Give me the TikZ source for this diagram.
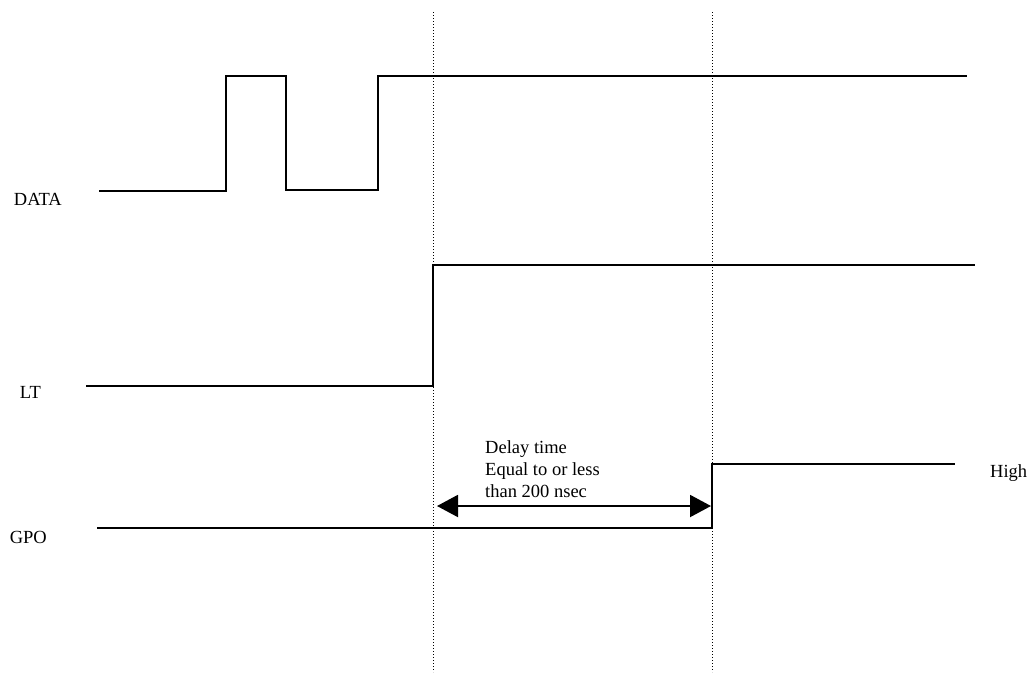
\documentclass[tikz,border=0pt]{standalone}
\usepackage{fontspec}
\setmainfont{Liberation Serif}
\usetikzlibrary{arrows.meta}
\begin{document}
\begin{tikzpicture}[x=1pt,y=-1pt,
  signal/.style={line width=2pt,line join=miter},
  marker/.style={line width=1pt,dash pattern=on 1pt off 2pt},
  lbl/.style={inner sep=0pt,font=\fontsize{18.5}{22}\selectfont},
  dim/.style={line width=2pt,{Triangle[length=21pt,width=22pt]}-{Triangle[length=21pt,width=22pt]}}]
\useasboundingbox (0,0) rectangle (1030,672);
% vertical markers
\coordinate (m1t) at (433,12); \coordinate (m1b) at (433,672);
\coordinate (m2t) at (712,12); \coordinate (m2b) at (712,672);
\draw[marker] (m1t) -- (m1b);
\draw[marker] (m2t) -- (m2b);
% labels
\node[lbl,anchor=base east] (data) at (62,205) {DATA};
\node[lbl,anchor=base east] (lt) at (41,398) {LT};
\node[lbl,anchor=base east] (gpo) at (47,543) {GPO};
\node[lbl,anchor=base west] (high) at (990,477) {High};
% DATA
\coordinate (d0) at (99,191);
\coordinate (d1) at (967,76);
\draw[signal] (d0) -- (226,191) -- (226,76) -- (286,76) -- (286,190) -- (378,190) -- (378,76) -- (d1);
% LT
\coordinate (l0) at (86,386);
\coordinate (l1) at (975,265);
\draw[signal] (l0) -- (433,386) -- (433,265) -- (l1);
% GPO
\coordinate (g0) at (97,528);
\coordinate (g1) at (955,464);
\draw[signal] (g0) -- (712,528) -- (712,464) -- (g1);
% delay
\coordinate (a0) at (437,506);
\coordinate (a1) at (711,506);
\draw[dim] (a0) -- (a1);
\node[lbl,anchor=base west,align=left] (delay) at (485,497) {Delay time\\Equal to or less\\than 200 nsec};
\end{tikzpicture}
\end{document}
